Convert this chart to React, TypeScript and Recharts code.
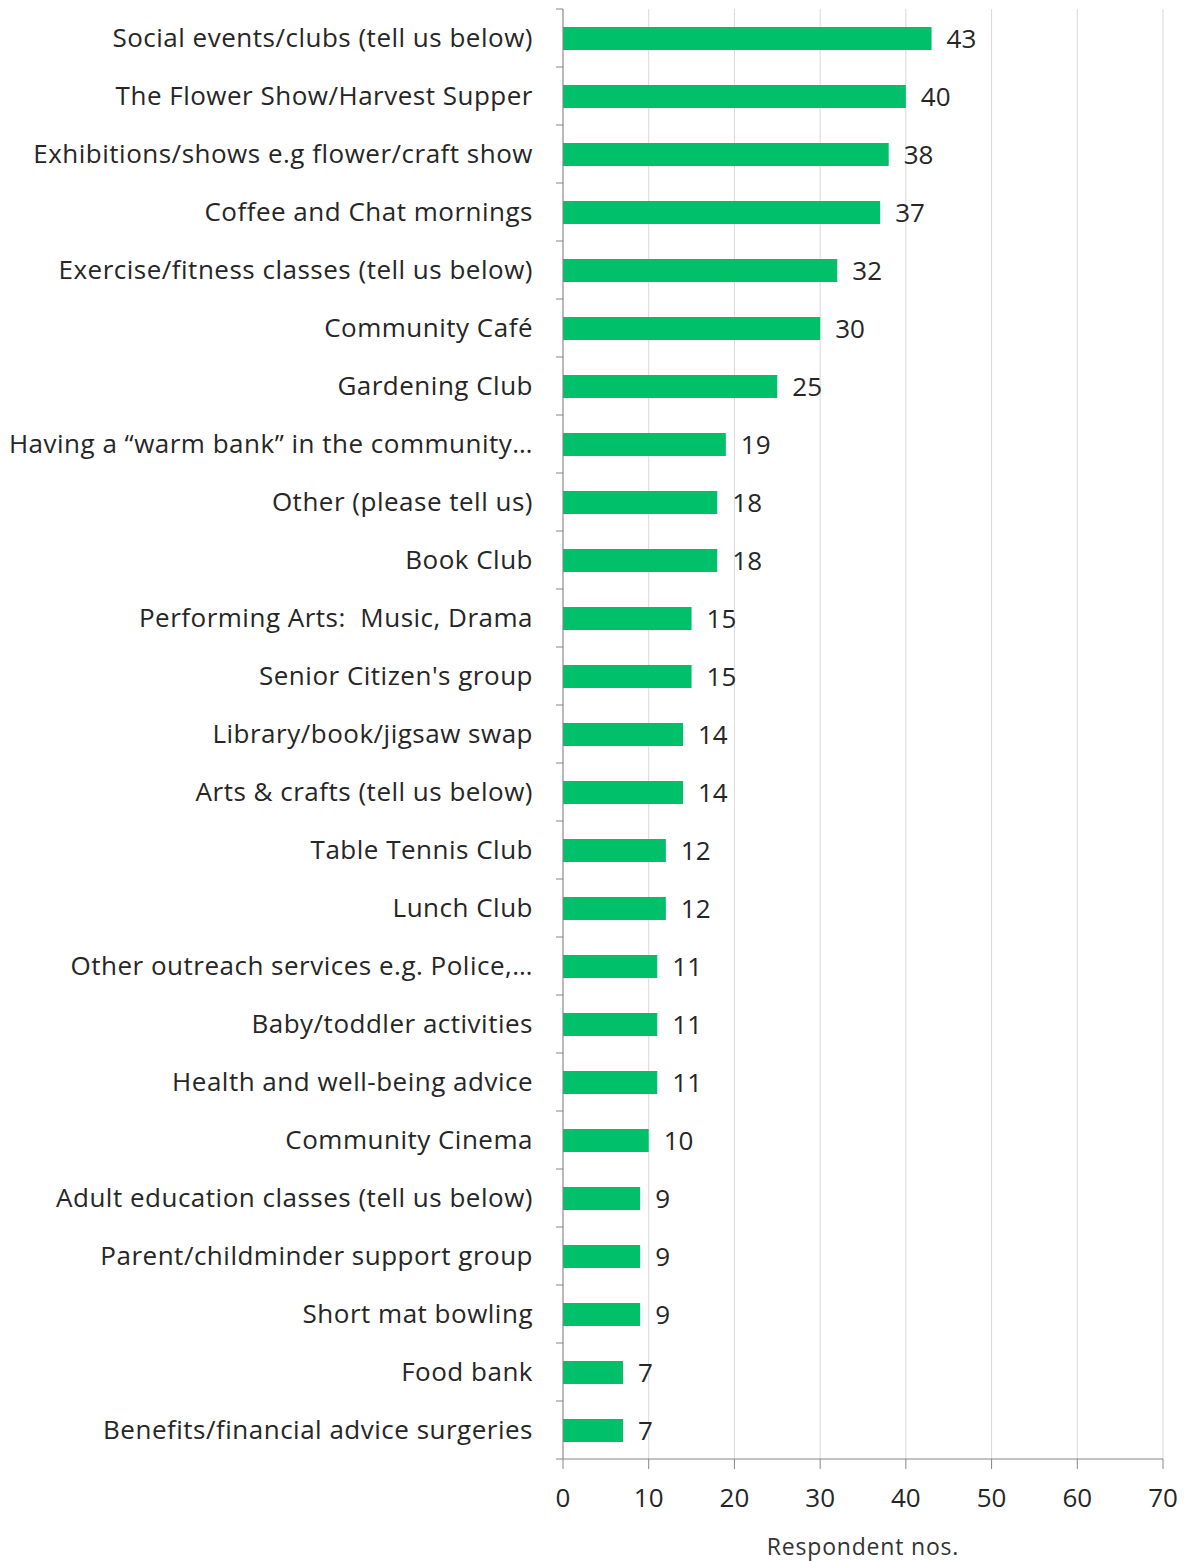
import { BarChart, Bar, XAxis, YAxis, CartesianGrid, LabelList } from 'recharts';

const categories = [
  'Social events/clubs (tell us below)',
  'The Flower Show/Harvest Supper',
  'Exhibitions/shows e.g flower/craft show',
  'Coffee and Chat mornings',
  'Exercise/fitness classes (tell us below)',
  'Community Café',
  'Gardening Club',
  'Having a “warm bank” in the community…',
  'Other (please tell us)',
  'Book Club',
  'Performing Arts:  Music, Drama',
  "Senior Citizen's group",
  'Library/book/jigsaw swap',
  'Arts & crafts (tell us below)',
  'Table Tennis Club',
  'Lunch Club',
  'Other outreach services e.g. Police,…',
  'Baby/toddler activities',
  'Health and well-being advice',
  'Community Cinema',
  'Adult education classes (tell us below)',
  'Parent/childminder support group',
  'Short mat bowling',
  'Food bank',
  'Benefits/financial advice surgeries',
];

const respondents = [43, 40, 38, 37, 32, 30, 25, 19, 18, 18, 15, 15, 14, 14, 12, 12, 11, 11, 11, 10, 9, 9, 9, 7, 7];

const xTicks = [0, 10, 20, 30, 40, 50, 60, 70];

const data = categories.map((name, i) => ({ name, value: respondents[i] }));

const FONT = '"Open Sans", Lato, sans-serif';
const BAND = 58;

function CategoryTick(props: any) {
  const { x, y, payload, index } = props;
  const isLast = index === categories.length - 1;
  return (
    <g>
      <line x1={x - 7} x2={x} y1={y - BAND / 2} y2={y - BAND / 2} stroke="#868686" />
      {isLast && <line x1={x - 7} x2={x} y1={y + BAND / 2} y2={y + BAND / 2} stroke="#868686" />}
      <text
        x={x - 30}
        y={y}
        dy="0.35em"
        textAnchor="end"
        fill="#262626"
        fontSize={26}
        letterSpacing={0.5}
        fontFamily={FONT}
        style={{ whiteSpace: 'pre' }}
      >
        {payload.value}
      </text>
    </g>
  );
}

export default function App() {
  return (
    <div style={{ position: 'absolute', left: 0, top: 0, background: '#fff' }}>
      <BarChart
        width={1184}
        height={1561}
        data={data}
        layout="vertical"
        margin={{ top: 9, right: 21, bottom: 0, left: 0 }}
        barSize={23}
      >
        <CartesianGrid horizontal={false} stroke="#d9d9d9" />
        <XAxis
          type="number"
          domain={[0, 70]}
          ticks={xTicks}
          interval={0}
          height={102}
          stroke="#868686"
          tickSize={10}
          tickMargin={20}
          tick={{ fill: '#262626', fontSize: 26, fontFamily: FONT }}
          label={{
            value: 'Respondent nos.',
            position: 'insideBottom',
            offset: 6,
            fill: '#333',
            fontSize: 23,
            letterSpacing: 0.8,
            fontFamily: FONT,
          }}
        />
        <YAxis
          type="category"
          dataKey="name"
          width={563}
          interval={0}
          stroke="#868686"
          tickLine={false}
          tickSize={0}
          tickMargin={0}
          tick={<CategoryTick />}
        />
        <Bar dataKey="value" fill="#00c06a" isAnimationActive={false}>
          <LabelList
            dataKey="value"
            position="right"
            offset={15}
            fill="#262626"
            fontSize={26}
            fontFamily={FONT}
          />
        </Bar>
      </BarChart>
    </div>
  );
}
